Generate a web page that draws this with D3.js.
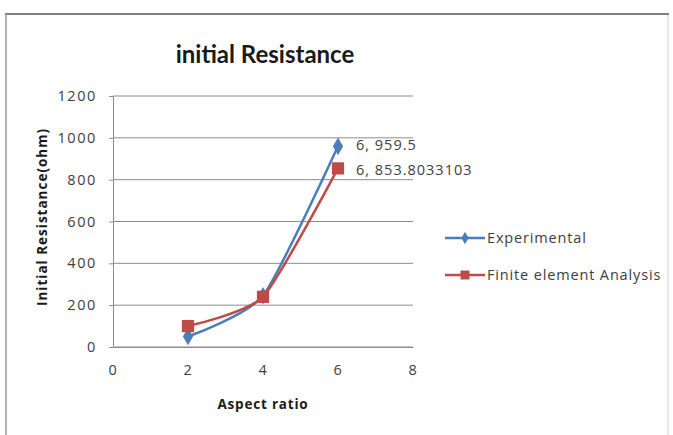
<!DOCTYPE html>
<html>
<head>
<meta charset="utf-8">
<script src="https://cdn.jsdelivr.net/npm/d3@7"></script>
<style>
  body { margin: 0; background: #fff; }
  svg { font-family: "Open Sans", Lato, sans-serif; }
</style>
</head>
<body>
<svg width="673" height="435"></svg>
<script>
"use strict";
// data
var aspectRatio = [2, 4, 6];
var experimental = [50, 245, 959.5];
var finiteElement = [100, 240, 853.8033103];
var xTicks = [0, 2, 4, 6, 8];
var yTicks = [0, 200, 400, 600, 800, 1000, 1200];
var seriesNames = ["Experimental", "Finite element Analysis"];
var dataLabels = ["6, 959.5", "6, 853.8033103"];

var svg = d3.select("svg");

// chart frame
svg.append("rect")
    .attr("x", 6).attr("y", 14)
    .attr("width", 662).attr("height", 430)
    .attr("fill", "#fff")
    .attr("stroke", "#d0d0d0").attr("stroke-width", 1);
svg.append("line")
    .attr("x1", 5).attr("x2", 669).attr("y1", 14).attr("y2", 14)
    .attr("stroke", "#808080").attr("stroke-width", 2);
svg.append("line")
    .attr("x1", 6).attr("x2", 6).attr("y1", 14).attr("y2", 435)
    .attr("stroke", "#a0a0a0").attr("stroke-width", 1.5);

var x = d3.scaleLinear().domain([0, 8]).range([113, 413]);
var y = d3.scaleLinear().domain([0, 1200]).range([347, 96]);

// gridlines
svg.append("g").selectAll("line").data(yTicks).join("line")
    .attr("x1", x(0)).attr("x2", x(8))
    .attr("y1", function(d){ return y(d); })
    .attr("y2", function(d){ return y(d); })
    .attr("stroke", "#8c8c8c").attr("stroke-width", 1);

var yAxis = svg.append("g")
    .attr("transform", "translate(" + x(0) + ",0)")
    .call(d3.axisLeft(y).tickValues(yTicks).tickFormat(d3.format("d"))
        .tickSize(4).tickPadding(12));
var xAxis = svg.append("g")
    .attr("transform", "translate(0," + y(0) + ")")
    .call(d3.axisBottom(x).tickValues(xTicks).tickFormat(d3.format("d"))
        .tickSize(0).tickPadding(18));
[yAxis, xAxis].forEach(function(a) {
    a.select(".domain").attr("stroke", "#8c8c8c");
    a.selectAll(".tick line").attr("stroke", "#8c8c8c");
    a.selectAll("text").attr("fill", "#404040")
        .style("font-size", "14.5px").style("letter-spacing", "1.6px")
        .style("font-family", "'Open Sans', sans-serif");
});

// titles
svg.append("text").attr("x", 265).attr("y", 63)
    .attr("text-anchor", "middle")
    .style("font-family", "Lato, sans-serif")
    .style("font-size", "24px").style("font-weight", "bold")
    .attr("fill", "#1a1a1a").text("initial Resistance");
svg.append("text").attr("x", 263).attr("y", 409)
    .attr("text-anchor", "middle")
    .style("font-size", "13.5px").style("font-weight", "bold")
    .style("letter-spacing", "0.8px")
    .attr("fill", "#1a1a1a").text("Aspect ratio");
svg.append("text")
    .attr("transform", "translate(47,217) rotate(-90)")
    .attr("text-anchor", "middle")
    .style("font-size", "13.5px").style("font-weight", "bold")
    .style("letter-spacing", "1px")
    .attr("fill", "#1a1a1a").text("Initial Resistance(ohm)");

var colors = ["#4a7ebb", "#be4b48"];
var series = [experimental, finiteElement];

var line = d3.line()
    .x(function(d){ return x(d[0]); })
    .y(function(d){ return y(d[1]); })
    .curve(d3.curveCardinal.tension(0.4));

var diamond = d3.symbol().type(d3.symbolDiamond).size(90);
var square = d3.symbol().type(d3.symbolSquare).size(150);

[0, 1].forEach(function(i) {
    var pts = aspectRatio.map(function(a, k){ return [a, series[i][k]]; });
    svg.append("path").datum(pts)
        .attr("d", line)
        .attr("fill", "none")
        .attr("stroke", colors[i]).attr("stroke-width", 2.5);
    svg.append("g").selectAll("path").data(pts).join("path")
        .attr("transform", function(d){ return "translate(" + x(d[0]) + "," + y(d[1]) + ")"; })
        .attr("d", i === 0 ? diamond : square)
        .attr("fill", colors[i]);
});

// data labels on last point
dataLabels.forEach(function(t, i) {
    var v = series[i][2];
    svg.append("text")
        .attr("x", x(6) + 18).attr("y", y(v) + (i === 0 ? -1 : 2))
        .attr("dy", "0.35em")
        .style("font-size", "14.5px").style("letter-spacing", "1px")
        .attr("fill", "#404040").text(t);
});

// legend
var legend = svg.append("g").attr("transform", "translate(445,238)");
seriesNames.forEach(function(n, i) {
    var g = legend.append("g").attr("transform", "translate(0," + i * 37 + ")");
    g.append("line").attr("x1", 0).attr("x2", 40)
        .attr("stroke", colors[i]).attr("stroke-width", 2.5);
    g.append("path").attr("transform", "translate(20,0)")
        .attr("d", i === 0 ? d3.symbol().type(d3.symbolDiamond).size(45)
                           : d3.symbol().type(d3.symbolSquare).size(80))
        .attr("fill", colors[i]);
    g.append("text").attr("x", 42).attr("dy", "0.35em")
        .style("font-size", "14.5px").style("letter-spacing", "0.85px")
        .attr("fill", "#404040").text(n);
});
</script>
</body>
</html>
